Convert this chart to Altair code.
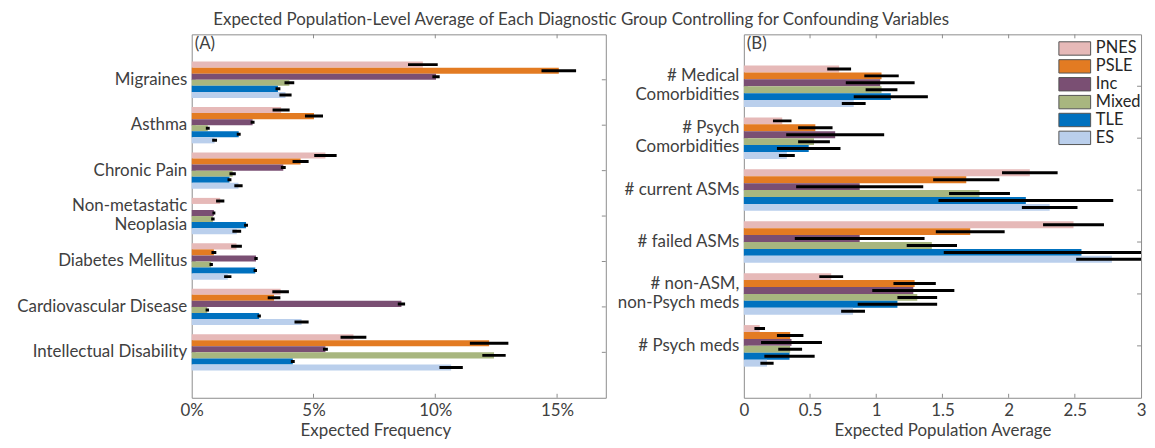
import altair as alt
import pandas as pd

FONT = "Lato"
TEXT = "#404040"
AXIS_GRAY = "#8c8c8c"
SP = "\u2002"  # en space, used to centre the shorter line of two-line labels

groups = ["PNES", "PSLE", "Inc", "Mixed", "TLE", "ES"]
group_colors = ["#E6B9B8", "#E37B22", "#7A4F73", "#A8B67F", "#0071BF", "#BACFEC"]

# ---- Panel A: expected frequency (%) ----
conditions = [
    "Migraines",
    "Asthma",
    "Chronic Pain",
    "Non-metastatic|Neoplasia" + SP * 3,
    "Diabetes Mellitus",
    "Cardiovascular Disease",
    "Intellectual Disability",
]
freq_pnes = [9.49, 3.67, 5.49, 1.17, 1.84, 3.65, 6.64]
freq_psle = [15.07, 5.02, 4.47, 0.0, 0.91, 3.38, 12.21]
freq_inc = [10.03, 2.50, 3.76, 0.91, 2.64, 8.61, 5.49]
freq_mixed = [4.01, 0.66, 1.68, 0.87, 0.80, 0.64, 12.41]
freq_tle = [3.54, 1.93, 1.55, 2.23, 2.61, 2.77, 4.15]
freq_es = [3.85, 0.94, 1.92, 1.85, 1.48, 4.51, 10.65]

freq_err_pnes = [0.61, 0.35, 0.46, 0.17, 0.22, 0.34, 0.53]
freq_err_psle = [0.71, 0.37, 0.33, 0.0, 0.10, 0.26, 0.79]
freq_err_inc = [0.15, 0.08, 0.10, 0.06, 0.07, 0.15, 0.10]
freq_err_mixed = [0.20, 0.08, 0.13, 0.07, 0.07, 0.07, 0.48]
freq_err_tle = [0.10, 0.08, 0.08, 0.08, 0.07, 0.07, 0.08]
freq_err_es = [0.25, 0.10, 0.17, 0.18, 0.15, 0.29, 0.48]

freq_ticks = [0, 5, 10, 15]

# ---- Panel B: expected population average ----
measures = [
    "# Medical" + SP * 2 + "|Comorbidities",
    "# Psych" + SP * 3 + "|Comorbidities",
    "# current ASMs",
    "# failed ASMs",
    "# non-ASM," + SP * 2 + "|non-Psych meds",
    "# Psych meds",
]
avg_pnes = [0.72, 0.29, 2.16, 2.49, 0.66, 0.12]
avg_psle = [1.04, 0.54, 1.68, 1.71, 1.29, 0.35]
avg_inc = [1.03, 0.69, 0.875, 0.875, 1.28, 0.36]
avg_mixed = [1.04, 0.53, 1.78, 1.42, 1.31, 0.35]
avg_tle = [1.11, 0.49, 2.13, 2.55, 1.16, 0.345]
avg_es = [0.83, 0.325, 2.31, 2.78, 0.825, 0.175]

avg_err_pnes = [0.09, 0.07, 0.21, 0.23, 0.09, 0.04]
avg_err_psle = [0.13, 0.13, 0.25, 0.26, 0.16, 0.10]
avg_err_inc = [0.26, 0.37, 0.48, 0.49, 0.31, 0.23]
avg_err_mixed = [0.12, 0.12, 0.23, 0.19, 0.15, 0.09]
avg_err_tle = [0.28, 0.24, 0.66, 1.04, 0.30, 0.19]
avg_err_es = [0.09, 0.06, 0.21, 0.27, 0.09, 0.05]

avg_ticks = [0, 0.5, 1, 1.5, 2, 2.5, 3]

H = 366


def build_frame(cats, means, errs):
    rows = []
    for g, mlist, elist in zip(groups, means, errs):
        for c, m, e in zip(cats, mlist, elist):
            rows.append({"cat": c, "group": g, "mean": m, "lo": m - e, "hi": m + e})
    return pd.DataFrame(rows)


def panel(df, cats, xmax, ticks, label_expr, xtitle, width, tag, legend, title_x=None):
    yscale = alt.Scale(domain=cats, paddingInner=0.2, paddingOuter=0.6)
    yaxis = alt.Axis(
        title=None, ticks=False, domain=False, labelExpr="split(datum.label, '|')",
        labelPadding=5, labelLimit=400, labelFontSize=17, labelLineHeight=19,
        labelOffset={"condition": {"test": "indexof(datum.value, '|') >= 0", "value": -10},
                     "value": 0},
    )
    xscale = alt.Scale(domain=[0, xmax], nice=False, zero=True, clamp=True)
    axis_kw = dict(
        title=xtitle, values=ticks, labelExpr=label_expr, ticks=False, domain=False,
        grid=False, labelPadding=4.5, titlePadding=4.5, labelFlush=False,
    )
    if title_x is not None:
        axis_kw["titleX"] = title_x
    xaxis = alt.Axis(**axis_kw)
    y_enc = alt.Y("cat:N", sort=cats, scale=yscale, axis=yaxis)
    yoff = alt.YOffset("group:N", sort=groups,
                       scale=alt.Scale(domain=groups, paddingInner=0, paddingOuter=0))
    color = alt.Color("group:N", sort=groups,
                      scale=alt.Scale(domain=groups, range=group_colors), legend=legend)

    inner = [t for t in ticks if 0 < t < xmax]
    tick_df = pd.DataFrame({"v": inner})
    cat_df = pd.DataFrame({"cat": cats})

    xt_bottom = alt.Chart(tick_df).mark_rule(color=AXIS_GRAY).encode(
        x=alt.X("v:Q", scale=xscale, axis=xaxis), y=alt.value(H), y2=alt.value(H - 4))
    xt_top = alt.Chart(tick_df).mark_rule(color=AXIS_GRAY).encode(
        x=alt.X("v:Q", scale=xscale, axis=xaxis), y=alt.value(0), y2=alt.value(4))
    yt_left = alt.Chart(cat_df).mark_rule(color=AXIS_GRAY).encode(
        y=y_enc, x=alt.value(0), x2=alt.value(4))
    yt_right = alt.Chart(cat_df).mark_rule(color=AXIS_GRAY).encode(
        y=y_enc, x=alt.value(width - 4), x2=alt.value(width))

    bars = alt.Chart(df).mark_bar(strokeWidth=0).encode(
        x=alt.X("mean:Q", scale=xscale, axis=xaxis),
        y=y_enc, yOffset=yoff, color=color,
    )
    errs = alt.Chart(df).mark_rule(color="black", strokeWidth=3, clip=True).encode(
        x=alt.X("lo:Q", scale=xscale, axis=xaxis), x2="hi:Q",
        y=y_enc, yOffset=yoff,
    )
    tag_df = pd.DataFrame({"t": [tag]})
    tag_text = alt.Chart(tag_df).mark_text(
        align="left", baseline="top", fontSize=17, font=FONT, color=TEXT
    ).encode(x=alt.value(3), y=alt.value(2), text="t:N")

    return alt.layer(xt_bottom, xt_top, yt_left, yt_right, bars, errs, tag_text).properties(
        width=width, height=H)


df_a = build_frame(
    conditions,
    [freq_pnes, freq_psle, freq_inc, freq_mixed, freq_tle, freq_es],
    [freq_err_pnes, freq_err_psle, freq_err_inc, freq_err_mixed, freq_err_tle, freq_err_es],
)
df_b = build_frame(
    measures,
    [avg_pnes, avg_psle, avg_inc, avg_mixed, avg_tle, avg_es],
    [avg_err_pnes, avg_err_psle, avg_err_inc, avg_err_mixed, avg_err_tle, avg_err_es],
)

legend_b = alt.Legend(
    title=None, orient="none", legendX=325, legendY=6, padding=0,
    symbolType="M-2.37,-1H2.37V1H-2.37Z", symbolSize=182, symbolStrokeColor="#555555",
    symbolStrokeWidth=1, symbolOpacity=1, labelFontSize=16.5, labelOffset=13, rowPadding=0,
    labelFont=FONT, labelColor="#262626",
)

left = panel(df_a, conditions, 17, freq_ticks, "datum.value + '%'",
             "Expected Frequency", 417, "(A)", None, title_x=185)
right = panel(df_b, measures, 3, avg_ticks, "format(datum.value, '~g')",
              "Expected Population Average", 400, "(B)", legend_b)

chart = alt.hconcat(left, right, spacing=10).resolve_scale(
    x="independent", y="independent", yOffset="independent", color="independent"
).properties(
    title=alt.TitleParams(
        "Expected Population-Level Average of Each Diagnostic Group Controlling for Confounding Variables",
        fontSize=17, font=FONT, color=TEXT, fontWeight="normal", anchor="middle", offset=4,
    ),
    padding={"left": 7, "top": 2, "right": 0, "bottom": 0},
).configure_view(
    stroke=AXIS_GRAY, strokeWidth=1
).configure_axis(
    labelFont=FONT, titleFont=FONT, labelColor=TEXT, titleColor=TEXT,
    labelFontSize=17, titleFontSize=17, titleFontWeight="normal",
)

chart.save("out.html", embed_options={"renderer": "svg", "actions": False})
